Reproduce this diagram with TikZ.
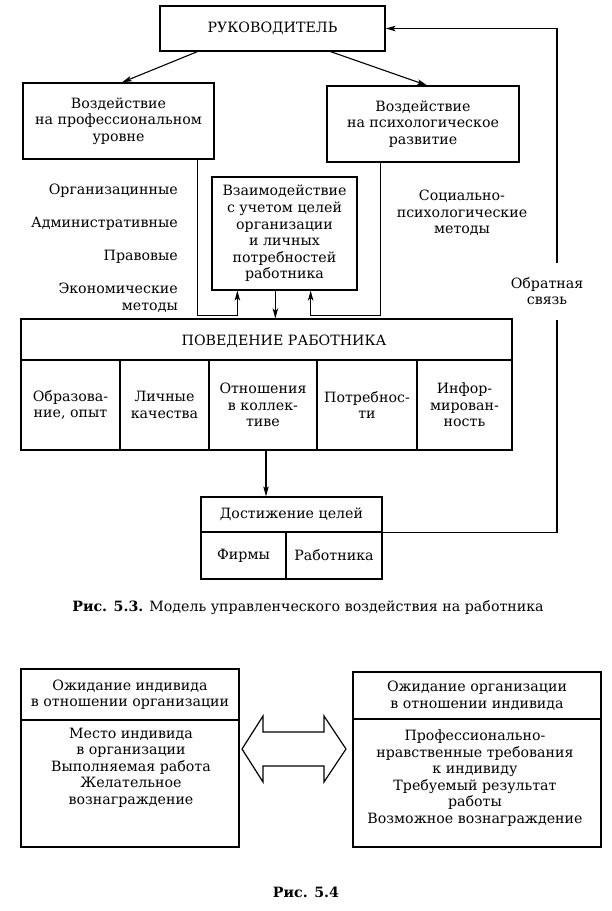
\documentclass[tikz,border=0pt]{standalone}
\usepackage{fontspec}
\setmainfont{DejaVu Serif}
\usetikzlibrary{arrows.meta,calc}
\newcommand\fs{\fontsize{14.2}{16.6}\selectfont}
\tikzset{
  box/.style={draw, line width=1.3pt, inner sep=0pt, align=center, font=\fs},
  lbl/.style={inner sep=0pt, align=center, font=\fs},
  arr/.style={-{Stealth[length=10pt,width=5.5pt,inset=2.5pt]}, line width=1.1pt},
  ln/.style={line width=1.2pt},
}
\begin{document}
\begin{tikzpicture}[x=1pt,y=-1pt]
\useasboundingbox[fill=white] (0,0) rectangle (611,911);
% top
\node[box, minimum width=225pt, minimum height=45pt] (ruk) at (272.5,28.5) {РУКОВОДИТЕЛЬ};
\node[box, minimum width=191pt, minimum height=76pt] (lbox) at (118.5,121) {Воздействие\\на профессиональном\\уровне};
\node[box, minimum width=192pt, minimum height=76pt] (rbox) at (423,124) {Воздействие\\на психологическое\\развитие};
\node[box, minimum width=145pt, minimum height=113pt] (inner) at (284.5,233.5) {Взаимодействие\\с учетом целей\\организации\\и личных\\потребностей\\работника};
% left labels
\node[lbl, anchor=east] (m1) at (178,191) {Организацинные};
\node[lbl, anchor=east] (m2) at (178,224) {Административные};
\node[lbl, anchor=east] (m3) at (178,257) {Правовые};
\node[lbl, anchor=east, align=right] (m4) at (178,298) {Экономические\\методы};
\node[lbl] (soc) at (462,213) {Социально-\\психологические\\методы};
\node[lbl] (fbt) at (547,291) {Обратная\\связь};
% behaviour block
\node[box, minimum width=491pt, minimum height=41pt] (head) at (266.5,339.5) {};
\node[lbl] (headtxt) at (284,341) {ПОВЕДЕНИЕ РАБОТНИКА};
\node[box, minimum width=99pt, minimum height=90pt] (c1) at (70.5,405) {Образова-\\ние, опыт};
\node[box, minimum width=89pt, minimum height=90pt] (c2) at (164.5,405) {Личные\\качества};
\node[box, minimum width=108pt, minimum height=90pt] (c3) at (263,405) {Отношения\\в коллек-\\тиве};
\node[box, minimum width=100pt, minimum height=90pt] (c4) at (367,405) {Потребнос-\\ти};
\node[box, minimum width=95pt, minimum height=90pt] (c5) at (464.5,405) {Инфор-\\мирован-\\ность};
% goals
\node[box, minimum width=181pt, minimum height=35pt] (dhead) at (291.5,514.5) {Достижение целей};
\node[box, minimum width=85pt, minimum height=47pt] (firm) at (243.5,555.5) {Фирмы};
\node[box, minimum width=96pt, minimum height=47pt] (rab) at (334,555.5) {Работника};
\node[lbl] (cap1) at (308,608) {\textbf{Рис. 5.3.} Модель управленческого воздействия на работника};
% connectors top
\draw[arr] ([xshift=38pt]ruk.south west) -- ([xshift=3.5pt]lbox.north);
\draw[arr] ([xshift=-55pt]ruk.south east) -- ([xshift=4pt]rbox.north);
\draw[arr] ([xshift=-17pt]lbox.south east) -- ++(0,156) -| ([xshift=26pt]inner.south west);
\draw[arr] ([xshift=54pt]rbox.south west) -- ++(0,153) -| ([xshift=-47pt]inner.south east);
\draw[arr] ([xshift=64pt]inner.south west) -- ([xshift=64pt]inner.south west |- head.north);
\draw[arr] ([xshift=3pt]c3.south) -- ([xshift=3pt]c3.south |- dhead.north);
% feedback
\coordinate (fbb) at (557,320);
\coordinate (fbu) at (557,263);
\draw[ln] (dhead.south east) -| (fbb);
\draw[arr] (fbu) |- (ruk.east);
% bottom figure
\node[box, minimum width=218pt, minimum height=51pt] (lh) at (130,694.5) {Ожидание индивида\\в отношении организации};
\node[box, minimum width=218pt, minimum height=127pt] (lb) at (130,783.5) {};
\node[lbl] (lbt) at (131,767.5) {Место индивида\\в организации\\Выполняемая работа\\Желательное\\вознаграждение};
\node[box, minimum width=248pt, minimum height=47pt] (rh) at (477,695.5) {Ожидание организации\\в отношении индивида};
\node[box, minimum width=248pt, minimum height=128pt] (rb) at (477,783) {};
\node[lbl] (rbt) at (475,778) {Профессионально-\\нравственные требования\\к индивиду\\Требуемый результат\\работы\\Возможное вознаграждение};
\draw[ln, line join=miter] (242,749) -- (263,716) -- (263,732) -- (324,732) -- (324,716) -- (346,749)
  -- (324,782) -- (324,766) -- (263,766) -- (263,782) -- cycle;
\node[lbl] (cap2) at (306,892) {\textbf{Рис. 5.4}};
\end{tikzpicture}
\end{document}
